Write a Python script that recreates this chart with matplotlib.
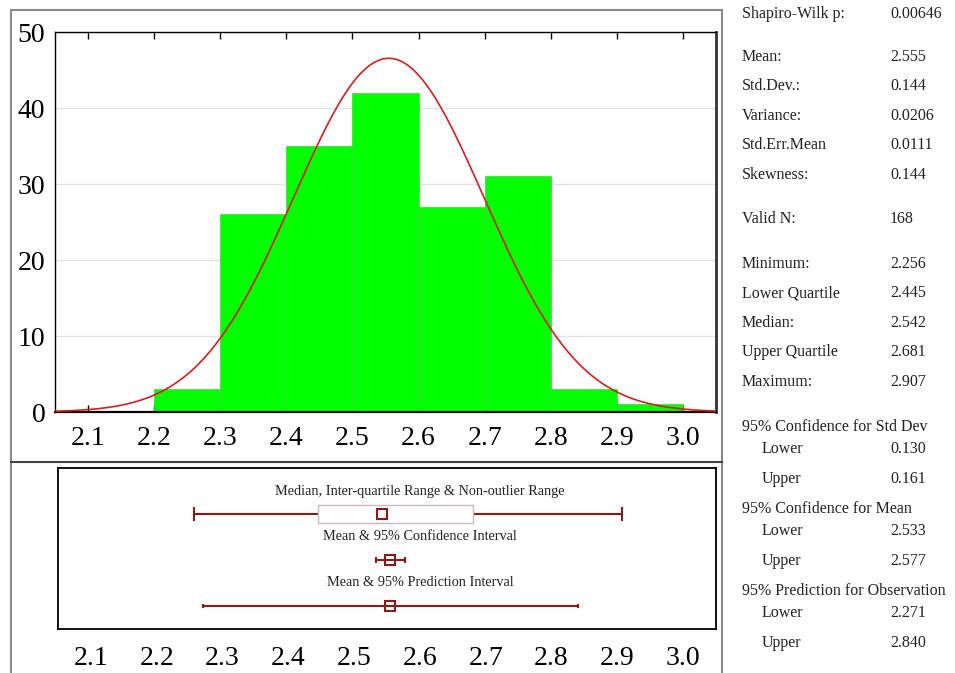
import numpy as np
import matplotlib
matplotlib.use("Agg")
import matplotlib.pyplot as plt
from matplotlib.lines import Line2D
from matplotlib.patches import Rectangle

plt.rcParams['font.family'] = ['Liberation Serif', 'DejaVu Serif']

# histogram data
bin_edges = [2.2, 2.3, 2.4, 2.5, 2.6, 2.7, 2.8, 2.9]
counts = [3, 26, 35, 42, 27, 31, 3, 1]
bin_width = 0.1

# summary statistics
n_valid = 168
mean = 2.555
std = 0.144
minimum, q1, median, q3, maximum = 2.256, 2.445, 2.542, 2.681, 2.907
ci_mean = (2.533, 2.577)
pi_obs = (2.271, 2.840)

stat_labels = ["Shapiro-Wilk p:", "Mean:", "Std.Dev.:", "Variance:", "Std.Err.Mean",
               "Skewness:", "Valid N:", "Minimum:", "Lower Quartile", "Median:",
               "Upper Quartile", "Maximum:"]
stat_values = ["0.00646", "2.555", "0.144", "0.0206", "0.0111", "0.144", "168",
               "2.256", "2.445", "2.542", "2.681", "2.907"]
interval_headers = ["95% Confidence for Std Dev", "95% Confidence for Mean",
                    "95% Prediction for Observation"]
interval_values = [("0.130", "0.161"), ("2.533", "2.577"), ("2.271", "2.840")]

xticks = [2.1, 2.2, 2.3, 2.4, 2.5, 2.6, 2.7, 2.8, 2.9, 3.0]

W, H = 955, 673
fig = plt.figure(figsize=(W / 100, H / 100), dpi=100)


def px(l, t, r, b):
    return [l / W, 1 - b / H, (r - l) / W, (b - t) / H]


# outer frame
frame_col = '#8a8a8a'
for xs, ys in [([11, 722], [10, 10]), ([11, 11], [10, 673]), ([722, 722], [10, 673])]:
    fig.add_artist(Line2D([x / W for x in xs], [1 - y / H for y in ys],
                          color=frame_col, lw=1.5, transform=fig.transFigure))
fig.add_artist(Line2D([11 / W, 722 / W], [1 - 462 / H] * 2, color='#444444', lw=1.5,
                      transform=fig.transFigure))

# ---- histogram ----
ax = fig.add_axes(px(55, 32, 716, 412))
ax.bar(bin_edges, counts, width=bin_width, align='edge', color='#00ff00',
       edgecolor='#33dd33', linewidth=0.5, zorder=2)
xs = np.linspace(2.05, 3.05, 400)
curve = n_valid * bin_width / (std * np.sqrt(2 * np.pi)) * np.exp(-0.5 * ((xs - mean) / std) ** 2)
ax.plot(xs, curve, color='#d42020', lw=1.2, zorder=3)
ax.set_xlim(2.05, 3.05)
ax.set_ylim(0, 50)
ax.set_yticks([0, 10, 20, 30, 40, 50])
ax.set_xticks(xticks)
ax.set_xticklabels([f"{t:.1f}" for t in xticks])
ax.yaxis.grid(True, color='#e3e3e3', lw=1, zorder=0)
ax.set_axisbelow(True)
ax.tick_params(axis='x', direction='in', top=True, length=5, width=1, labelsize=20, pad=10)
ax.tick_params(axis='y', length=0, labelsize=20, pad=7)
for s in ['left', 'top']:
    ax.spines[s].set_linewidth(1)
ax.spines['bottom'].set_linewidth(1.6)
ax.spines['right'].set_linewidth(2)
ax.spines['right'].set_color('#333333')

# ---- box / interval panel ----
bx = fig.add_axes(px(58, 468, 716, 629))
bx.set_xlim(2.05, 3.05)
bx.set_ylim(0, 7)
bx.set_yticks([])
bx.set_xticks(xticks)
bx.set_xticklabels([f"{t:.1f}" for t in xticks])
bx.tick_params(axis='x', length=0, labelsize=20, pad=12)
for s in bx.spines.values():
    s.set_linewidth(1.3)

dark = '#8b1a1a'
txt_col = '#222222'
box_fs = 10.3

# row 1: median, IQR, non-outlier range
bx.errorbar([median], [5], xerr=[[median - minimum], [maximum - median]], fmt='none',
            ecolor=dark, elinewidth=1.5, capsize=5, capthick=1.5, zorder=2)
bx.add_patch(Rectangle((q1, 5 - 0.39), q3 - q1, 0.78, facecolor='white',
                       edgecolor='#c8baba', lw=1, zorder=3))
bx.plot([median], [5], 's', ms=7, mfc='none', mec=dark, mew=1.5, zorder=4)
bx.text(2.6, 6, "Median, Inter-quartile Range & Non-outlier Range", ha='center',
        va='center', fontsize=box_fs, color=txt_col)

# row 2: mean & confidence interval
bx.errorbar([mean], [3], xerr=[[mean - ci_mean[0]], [ci_mean[1] - mean]], fmt='s', ms=7,
            mfc='none', mec=dark, mew=1.5, ecolor=dark, elinewidth=1.5, capsize=2.5,
            capthick=1.5)
bx.text(2.6, 4, "Mean & 95% Confidence Interval", ha='center', va='center',
        fontsize=box_fs, color=txt_col)

# row 3: mean & prediction interval
bx.errorbar([mean], [1], xerr=[[mean - pi_obs[0]], [pi_obs[1] - mean]], fmt='s', ms=7,
            mfc='none', mec=dark, mew=1.5, ecolor=dark, elinewidth=1.5, capsize=1.5,
            capthick=1.5)
bx.text(2.6, 2, "Mean & 95% Prediction Interval", ha='center', va='center',
        fontsize=box_fs, color=txt_col)

# ---- statistics text ----
stat_rows = [14, 57, 86, 116, 145, 175, 219, 264, 293, 323, 352, 382]
for lab, val, y in zip(stat_labels, stat_values, stat_rows):
    fig.text(742 / W, 1 - y / H, lab, va='center', fontsize=11.5, color=txt_col)
    fig.text(890 / W, 1 - y / H, val, va='center', fontsize=11.5, color=txt_col)

header_rows = [427, 509, 591]
for head, (lo, hi), y in zip(interval_headers, interval_values, header_rows):
    fig.text(742 / W, 1 - y / H, head, va='center', fontsize=11.5, color=txt_col)
    for name, val, dy in [("Lower", lo, 22), ("Upper", hi, 52)]:
        fig.text(762 / W, 1 - (y + dy) / H, name, va='center', fontsize=11.5, color=txt_col)
        fig.text(890 / W, 1 - (y + dy) / H, val, va='center', fontsize=11.5, color=txt_col)

fig.savefig("out.png", dpi=100)
